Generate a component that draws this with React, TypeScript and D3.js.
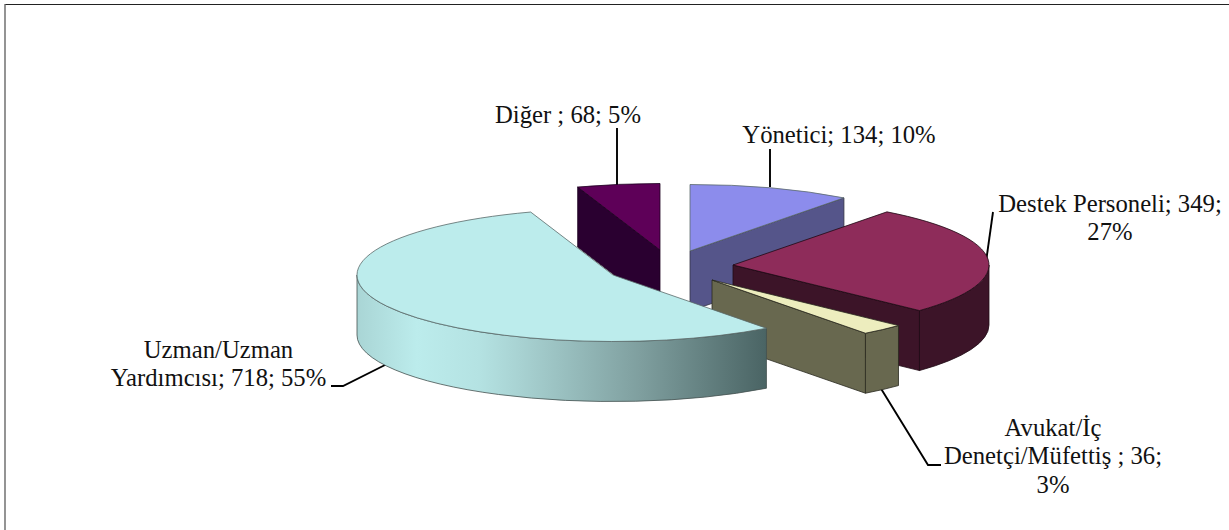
import React from "react";
import * as d3 from "d3";

const categories = ["Yönetici", "Destek Personeli", "Avukat/İç Denetçi/Müfettiş", "Uzman/Uzman Yardımcısı", "Diğer"];
const values = [134, 349, 36, 718, 68];
const labelLines = [
  ["Yönetici; 134; 10%"],
  ["Destek Personeli; 349;", "27%"],
  ["Avukat/İç", "Denetçi/Müfettiş ; 36;", "3%"],
  ["Uzman/Uzman", "Yardımcısı; 718; 55%"],
  ["Diğer ; 68; 5%"],
];
const topColors = ["#8c8cec", "#8e2c5a", "#ededbe", "#bcecec", "#5e0058"];
const sideColors = ["#55558a", "#3c1428", "#68684f", "url(#uzmanSide)", "#2a0030"];
const strokeColors = ["#333344", "#1e0a14", "#2a2a20", "#44504f", "#1c0020"];
const apexes = [[690, 251], [733, 265], [712, 280], [613, 275], [660, 250]];
const labelAnchors = [[839, 143], [1110, 212], [1053, 436], [218.5, 358], [568, 123]];
const leaders = [
  [[770, 187], [770, 149]],
  [[986, 262], [993, 212]],
  [[880, 387], [928, 465], [941, 465]],
  [[387, 364], [343, 386], [331, 386]],
  [[617, 186], [617, 128]],
];
const gradientStops = [
  { at: 357, color: "#a9d5d5" },
  { at: 417, color: "#bcecec" },
  { at: 480, color: "#b4e2e2" },
  { at: 520, color: "#a8d2d2" },
  { at: 640, color: "#7f9f9f" },
  { at: 767, color: "#4a6464" },
];

const RX = 256;
const RY = 66.5;
const DEPTH = 60;
const FONT = "'Liberation Serif', 'Times New Roman', serif";
const FONT_SIZE = 24.7;
const LINE_H = 28.4;

const angles = d3.pie<number>().sort(null).startAngle(0).endAngle(2 * Math.PI)(values);
const gradX = d3.scaleLinear().domain([357, 767]).range([0, 1]);
const line = d3.line();

const pt = (apex: number[], a: number, dz = 0): [number, number] => [
  apex[0] + RX * Math.sin(a),
  apex[1] - RY * Math.cos(a) + dz,
];

function topPath(apex: number[], a0: number, a1: number) {
  const p0 = pt(apex, a0);
  const p1 = pt(apex, a1);
  const large = a1 - a0 > Math.PI ? 1 : 0;
  return `M${apex[0]},${apex[1]}L${p0[0]},${p0[1]}A${RX},${RY} 0 ${large} 1 ${p1[0]},${p1[1]}Z`;
}

function outerPath(apex: number[], a0: number, a1: number) {
  const s = Math.max(a0, Math.PI / 2);
  const e = Math.min(a1, (3 * Math.PI) / 2);
  if (e <= s) return null;
  const p0 = pt(apex, s);
  const p1 = pt(apex, e);
  const q1 = pt(apex, e, DEPTH);
  const q0 = pt(apex, s, DEPTH);
  return `M${p0[0]},${p0[1]}A${RX},${RY} 0 0 1 ${p1[0]},${p1[1]}L${q1[0]},${q1[1]}A${RX},${RY} 0 0 0 ${q0[0]},${q0[1]}Z`;
}

function cutPath(apex: number[], a: number) {
  const p = pt(apex, a);
  return line([
    [apex[0], apex[1]],
    p,
    [p[0], p[1] + DEPTH],
    [apex[0], apex[1] + DEPTH],
  ]) + "Z";
}

const drawOrder = [4, 0, 1, 2, 3];

export default function App() {
  return (
    <svg
      width={1229}
      height={530}
      style={{ position: "absolute", left: 0, top: 0, display: "block", background: "#fff" }}
    >
      <defs>
        <linearGradient id="uzmanSide" gradientUnits="objectBoundingBox" x1="0" x2="1" y1="0" y2="0">
          {gradientStops.map((s) => (
            <stop key={s.at} offset={gradX(s.at)} stopColor={s.color} />
          ))}
        </linearGradient>
      </defs>
      <line x1={5} y1={4.5} x2={1229} y2={4.5} stroke="#222" strokeWidth={1.2} />
      <line x1={5} y1={4} x2={5} y2={530} stroke="#666" strokeWidth={1.4} />

      {leaders.map((l, i) => (
        <path key={i} d={line(l as [number, number][]) || ""} fill="none" stroke="#000" strokeWidth={1.9} />
      ))}

      {drawOrder.map((i) => {
        const d = angles[i];
        const apex = apexes[i];
        const a0 = d.startAngle;
        const a1 = d.endAngle;
        const outer = outerPath(apex, a0, a1);
        const stroke = strokeColors[i];
        return (
          <g key={categories[i]} strokeWidth={0.8} strokeLinejoin="round">
            {Math.sin(a0) < -1e-6 && <path d={cutPath(apex, a0)} fill={sideColors[i]} stroke={stroke} />}
            {Math.sin(a1) > 1e-6 && <path d={cutPath(apex, a1)} fill={sideColors[i]} stroke={stroke} />}
            {outer && <path d={outer} fill={sideColors[i]} stroke={stroke} />}
            <path d={topPath(apex, a0, a1)} fill={topColors[i]} stroke={i === 3 || i === 0 ? "#5a6a6a" : stroke} />
          </g>
        );
      })}

      {labelLines.map((lines, i) => (
        <text
          key={i}
          x={labelAnchors[i][0]}
          y={labelAnchors[i][1]}
          textAnchor="middle"
          fontFamily={FONT}
          fontSize={FONT_SIZE}
          fill="#111"
        >
          {lines.map((t, j) => (
            <tspan key={j} x={labelAnchors[i][0]} y={labelAnchors[i][1] + j * LINE_H}>
              {t}
            </tspan>
          ))}
        </text>
      ))}
    </svg>
  );
}
